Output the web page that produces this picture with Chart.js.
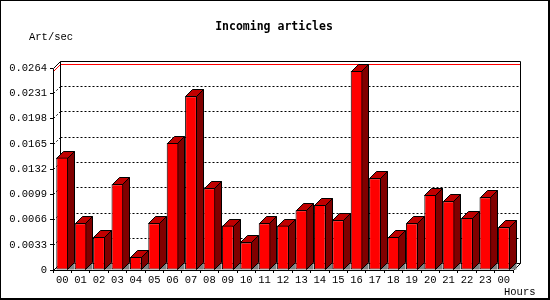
<!DOCTYPE html>
<html lang="en">
<head>
    <meta charset="UTF-8">
    <title>Incoming articles</title>
    <style>
        body { margin: 0; background: #ffffff; }
        #wrap { width: 550px; height: 300px; position: relative; }
    </style>
</head>
<body>
    <div id="wrap"><canvas id="chart" width="550" height="300"></canvas></div>

    <script src="https://cdn.jsdelivr.net/npm/chart.js"></script>
    <script>
        // Chart data
        const hours = ['00', '01', '02', '03', '04', '05', '06', '07', '08', '09', '10', '11',
                       '12', '13', '14', '15', '16', '17', '18', '19', '20', '21', '22', '23', '00'];
        const articlesPerSec = [0.0147, 0.0061, 0.0043, 0.0112, 0.0017, 0.0061, 0.0166, 0.0227,
                                0.0107, 0.0058, 0.0036, 0.0061, 0.0058, 0.0078, 0.0085, 0.0065,
                                0.0260, 0.0120, 0.0043, 0.0061, 0.0098, 0.0090, 0.0068, 0.0095, 0.0056];
        const yTicks = [0, 0.0033, 0.0066, 0.0099, 0.0132, 0.0165, 0.0198, 0.0231, 0.0264];
        const yTickLabels = ['0', '0.0033', '0.0066', '0.0099', '0.0132', '0.0165', '0.0198', '0.0231', '0.0264'];

        const DEPTH = 7;            // 3D offset (right / up)
        const MONO = "'Liberation Mono', 'DejaVu Sans Mono', monospace";
        const MONO_BOLD = "'DejaVu Sans Mono', 'Liberation Mono', monospace";

        function poly(ctx, pts, fill, stroke) {
            ctx.beginPath();
            ctx.moveTo(pts[0][0], pts[0][1]);
            for (let i = 1; i < pts.length; i++) ctx.lineTo(pts[i][0], pts[i][1]);
            ctx.closePath();
            if (fill) { ctx.fillStyle = fill; ctx.fill(); }
            if (stroke) { ctx.strokeStyle = stroke; ctx.lineWidth = 1; ctx.stroke(); }
        }

        function line(ctx, x1, y1, x2, y2, color, dash) {
            ctx.beginPath();
            ctx.setLineDash(dash || []);
            ctx.strokeStyle = color;
            ctx.lineWidth = 1;
            ctx.moveTo(x1, y1);
            ctx.lineTo(x2, y2);
            ctx.stroke();
            ctx.setLineDash([]);
        }

        // Back walls, grid, max line and the bar sides/tops
        const box3d = {
            id: 'box3d',
            beforeDatasetsDraw(chart) {
                const ctx = chart.ctx;
                const a = chart.chartArea;
                const y = chart.scales.y;
                const L = Math.round(a.left) + 0.5, R = Math.round(a.right) + 0.5;
                const T = Math.round(a.top) + 0.5, B = Math.round(a.bottom) + 0.5;
                const d = DEPTH;
                ctx.save();

                // dotted grid on back wall and left wall
                yTicks.forEach(v => {
                    if (v === 0 || v === yTicks[yTicks.length - 1]) return;
                    const py = Math.round(y.getPixelForValue(v)) + 0.5;
                    line(ctx, L + d, py - d, R + d, py - d, '#000', [2, 2]);
                    line(ctx, L, py, L + d, py - d, '#000', [2, 2]);
                });

                // max value line
                const maxV = Math.max(...articlesPerSec);
                const my = Math.round(y.getPixelForValue(maxV)) + 0.5;
                ctx.beginPath();
                ctx.strokeStyle = '#ff0000';
                ctx.moveTo(L, my);
                ctx.lineTo(L + d, my - d);
                ctx.lineTo(R + d, my - d);
                ctx.stroke();

                // back wall frame + floor
                ctx.strokeStyle = '#000';
                ctx.beginPath();
                ctx.moveTo(L, T);
                ctx.lineTo(L + d, T - d);
                ctx.lineTo(R + d, T - d);
                ctx.lineTo(R + d, B - d);
                ctx.lineTo(R, B);
                ctx.moveTo(L + d, T - d);
                ctx.lineTo(L + d, B - d);
                ctx.lineTo(R + d, B - d);
                ctx.moveTo(L, B);
                ctx.lineTo(L + d, B - d);
                ctx.stroke();

                // bar sides and tops
                const meta = chart.getDatasetMeta(0);
                meta.data.forEach(el => {
                    const xl = Math.round(el.x - el.width / 2) + 0.5;
                    const xr = Math.round(el.x + el.width / 2) - 0.5;
                    const top = Math.round(el.y) + 0.5;
                    const base = Math.round(el.base) - 0.5;
                    poly(ctx, [[xr, base], [xr + d, base - d], [xr + d, base]], '#808080', null);
                    poly(ctx, [[xr, top], [xr + d, top - d], [xr + d, base - d], [xr, base]], '#800000', '#000');
                    poly(ctx, [[xl, top], [xl + d, top - d], [xr + d, top - d], [xr, top]], '#c00000', '#000');
                });
                ctx.restore();
            },
            afterDraw(chart) {
                const ctx = chart.ctx;
                const a = chart.chartArea;
                const L = Math.round(a.left) + 0.5, R = Math.round(a.right) + 0.5;
                const T = Math.round(a.top) + 0.5, B = Math.round(a.bottom) + 0.5;
                ctx.save();
                // front axis lines
                line(ctx, L, T, L, B, '#000');
                line(ctx, L, B, R, B, '#000');

                // outer frame
                ctx.fillStyle = '#000';
                ctx.fillRect(0, 0, 550, 1);
                ctx.fillRect(0, 0, 1, 300);
                ctx.fillRect(548, 0, 2, 300);
                ctx.fillRect(0, 298, 550, 2);

                // texts
                ctx.fillStyle = '#000';
                ctx.textBaseline = 'middle';
                ctx.font = 'bold 11.5px ' + MONO_BOLD;
                ctx.textAlign = 'center';
                ctx.fillText('Incoming articles', 274, 27.5);
                ctx.font = '10.5px ' + MONO;
                ctx.textAlign = 'left';
                ctx.fillText('Art/sec', 29, 37.5);
                ctx.fillText('Hours', 504, 292);
                ctx.restore();
            }
        };

        const ctx = document.getElementById('chart').getContext('2d');
        const chart = new Chart(ctx, {
            type: 'bar',
            data: {
                labels: hours,
                datasets: [{
                    data: articlesPerSec,
                    backgroundColor: '#ff0000',
                    borderColor: '#000000',
                    borderWidth: 1,
                    borderSkipped: false,
                    barPercentage: 0.64,
                    categoryPercentage: 1.0
                }]
            },
            options: {
                responsive: false,
                animation: false,
                layout: { padding: { left: 0, top: 68, right: 37, bottom: 0 } },
                plugins: {
                    legend: { display: false },
                    title: { display: false },
                    tooltip: { enabled: false }
                },
                scales: {
                    x: {
                        grid: { display: true, drawOnChartArea: false, drawTicks: true, tickLength: 3, color: '#000' },
                        border: { display: false },
                        ticks: {
                            color: '#000',
                            font: { family: MONO, size: 10.5 },
                            padding: 1,
                            maxRotation: 0,
                            autoSkip: false
                        },
                        afterFit(scale) { scale.height = 30; }
                    },
                    y: {
                        min: 0,
                        max: 0.0264,
                        grid: { display: true, drawOnChartArea: false, drawTicks: true, tickLength: 3, color: '#000' },
                        border: { display: false },
                        afterBuildTicks(scale) {
                            scale.ticks = yTicks.map(v => ({ value: v }));
                        },
                        ticks: {
                            color: '#000',
                            font: { family: MONO, size: 10.5 },
                            padding: 3,
                            callback: (v, i) => yTickLabels[i]
                        },
                        afterFit(scale) { scale.width = 53; }
                    }
                }
            },
            plugins: [box3d]
        });
    </script>
</body>
</html>
